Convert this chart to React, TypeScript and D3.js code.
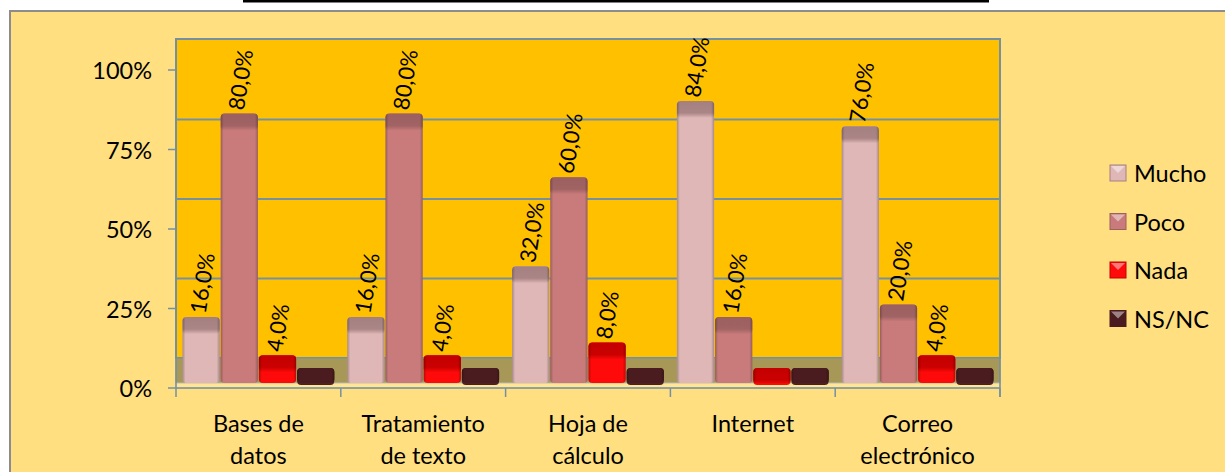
import React from "react";
import * as d3 from "d3";

const categories: string[][] = [
  ["Bases de", "datos"],
  ["Tratamiento", "de texto"],
  ["Hoja de", "cálculo"],
  ["Internet"],
  ["Correo", "electrónico"],
];
const series = ["Mucho", "Poco", "Nada", "NS/NC"];
const mucho = [16, 16, 32, 84, 76];
const poco = [80, 80, 60, 16, 20];
const nada = [4, 4, 8, 0, 4];
const nsnc = [0, 0, 0, 0, 0];
const values = [mucho, poco, nada, nsnc];
const yTicks = [0, 0.25, 0.5, 0.75, 1];

const frontCol = ["#DFB7B7", "#C97B7B", "#FF0A0A", "#4A1C1F"];
const capCol = ["#A58080", "#9C6060", "#C40000", "#4A1C1F"];

const FONT = "Lato, 'Open Sans', sans-serif";

export default function App() {
  const W = 1225, H = 472;
  const x0 = d3.scaleBand<number>().domain(d3.range(categories.length)).range([176, 1000]);
  const x1 = d3.scaleBand<string>().domain(series).range([6, x0.bandwidth() - 6]);
  const yAxis = d3.scaleLinear().domain([0, 1]).range([388, 70]);
  const depth = 30;
  const yBar = d3.scaleLinear().domain([0, 100]).range([383, 383 - 318]);
  const cap = 15;
  const wallTop = yAxis(1) - depth - 1;
  const wallBottom = yAxis(0) - depth;
  const edge = "#7391A3";
  const fmt = (v: number) => v.toFixed(1).replace(".", ",") + "%";

  return (
    <svg width={W} height={H} style={{ position: "absolute", left: 0, top: 0, background: "#fff" }}>
      <defs>
        {series.map((s, i) => (
          <linearGradient key={s} id={`shade${i}`} x1="0" x2="1" y1="0" y2="0">
            <stop offset="0" stopColor="#000" stopOpacity={0.25} />
            <stop offset="0.08" stopColor="#000" stopOpacity={0} />
            <stop offset="0.92" stopColor="#000" stopOpacity={0} />
            <stop offset="1" stopColor="#000" stopOpacity={0.25} />
          </linearGradient>
        ))}
        {series.map((s, i) => (
          <linearGradient key={s + "c"} id={`cap${i}`} x1="0" x2="0" y1="0" y2="1">
            <stop offset="0" stopColor={capCol[i]} />
            <stop offset="0.7" stopColor={capCol[i]} stopOpacity={0.9} />
            <stop offset="1" stopColor={frontCol[i]} />
          </linearGradient>
        ))}
      </defs>
      <line x1={243} x2={989} y1={1} y2={1} stroke="#000" strokeWidth={3} />
      <rect x={10} y={11} width={W + 20} height={H + 20} fill="#FFDF80" stroke="#8C8C8C" strokeWidth={2} />

      {/* back wall */}
      <rect x={176} y={wallTop} width={824} height={wallBottom - wallTop} fill="#FFC000" stroke={edge} strokeWidth={2} />
      {yTicks.slice(1, 4).map((t) => (
        <line key={t} x1={176} x2={1000} y1={yAxis(t) - depth} y2={yAxis(t) - depth} stroke={edge} strokeWidth={2} />
      ))}
      {/* floor */}
      <rect x={176} y={wallBottom} width={824} height={383 - wallBottom} fill="#A89858" stroke={edge} strokeWidth={1} />
      <rect x={176} y={383} width={824} height={5} fill="#FFE594" stroke="#C8C0A0" strokeWidth={1} />
      <line x1={176} x2={176} y1={wallTop} y2={yAxis(0)} stroke={edge} strokeWidth={1.5} />
      <line x1={176} x2={1000} y1={yAxis(0)} y2={yAxis(0)} stroke={edge} strokeWidth={1.5} />
      <line x1={1000} x2={1000} y1={wallBottom} y2={yAxis(0) + 9} stroke={edge} strokeWidth={1.5} />

      {/* y ticks */}
      {yTicks.map((t) => (
        <g key={t}>
          <line x1={168} x2={176} y1={yAxis(t)} y2={yAxis(t)} stroke={edge} strokeWidth={1.5} />
          <text x={152} y={yAxis(t)} textAnchor="end" dominantBaseline="central" fontFamily={FONT} fontSize={23.5} fill="#000">
            {Math.round(t * 100)}%
          </text>
        </g>
      ))}
      {/* x ticks */}
      {d3.range(categories.length + 1).map((i) => {
        const xx = i < categories.length ? x0(i)! : 1000;
        return <line key={i} x1={xx} x2={xx} y1={yAxis(0)} y2={yAxis(0) + 9} stroke={edge} strokeWidth={1.5} />;
      })}

      {/* bars */}
      {categories.map((c, ci) =>
        series.map((s, si) => {
          const v = values[si][ci];
          const bx = x0(ci)! + x1(s)!;
          const bw = x1.bandwidth();
          const top = yBar(v) - cap;
          return (
            <g key={ci + s}>
              <rect x={bx + 0.5} y={top} width={bw - 1} height={383 - top} rx={4} fill={frontCol[si]} />
              <rect x={bx + 0.5} y={top} width={bw - 1} height={cap + 2} rx={4} fill={`url(#cap${si})`} />
              <rect x={bx + 0.5} y={top} width={bw - 1} height={383 - top} rx={4} fill={`url(#shade${si})`} />
            </g>
          );
        })
      )}

      {/* data labels */}
      {categories.map((c, ci) =>
        series.map((s, si) => {
          const v = values[si][ci];
          if (v === 0) return null;
          const cx = x0(ci)! + x1(s)! + x1.bandwidth() / 2 - 4;
          const ty = yBar(v) - cap - 4;
          return (
            <text
              key={ci + s + "l"}
              transform={`translate(${cx},${ty}) rotate(-81)`}
              textAnchor="start"
              dominantBaseline="central"
              fontFamily={FONT}
              fontSize={22}
              fill="#000"
            >
              {fmt(v)}
            </text>
          );
        })
      )}

      {/* category labels */}
      {categories.map((c, ci) => (
        <text key={ci} textAnchor="middle" fontFamily={FONT} fontSize={23.5} fill="#000">
          {c.map((line, li) => (
            <tspan key={li} x={x0(ci)! + x0.bandwidth() / 2} y={432 + li * 32}>
              {line}
            </tspan>
          ))}
        </text>
      ))}

      {/* legend */}
      {series.map((s, i) => {
        const cy = 173 + i * 48.5;
        return (
          <g key={s}>
            <rect x={1110} y={cy - 8} width={16} height={16} fill={frontCol[i]} stroke={capCol[i]} strokeWidth={1} />
            <path d={`M1111,${cy - 7} L1125,${cy - 7} L1118,${cy} Z`} fill="#fff" fillOpacity={0.45} />
            <text x={1134} y={cy} dominantBaseline="central" fontFamily={FONT} fontSize={23.5} fill="#000">
              {s}
            </text>
          </g>
        );
      })}
    </svg>
  );
}
